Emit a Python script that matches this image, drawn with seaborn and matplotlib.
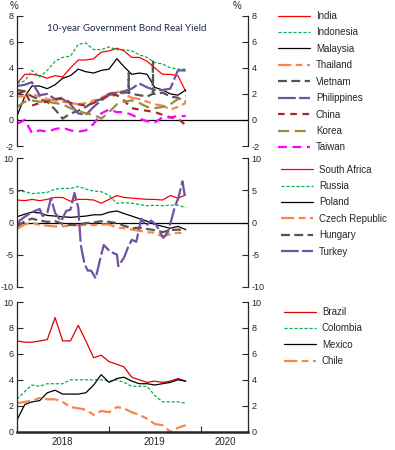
import pandas as pd
import matplotlib
matplotlib.use("Agg")
import matplotlib.pyplot as plt
import matplotlib.dates as mdates
import seaborn as sns

months = pd.date_range("2018-01-01", periods=23, freq="MS")

# --- Asia (%)
india = [2.8, 3.5, 3.5, 3.4, 3.2, 3.4, 3.3, 4.0, 4.6, 4.6, 4.7, 5.2, 5.3, 5.5, 5.3, 4.8, 4.8, 4.5, 4.0, 3.5, 3.5, 3.4, 2.2]
indonesia = [2.8, 3.0, 3.8, 3.3, 3.8, 4.5, 4.8, 4.9, 5.8, 5.9, 5.4, 5.4, 5.6, 5.4, 5.4, 5.3, 5.0, 4.8, 4.4, 4.3, 4.0, 3.9, 3.9]
malaysia = [0.3, 1.8, 2.6, 2.6, 2.4, 2.7, 3.2, 3.4, 3.9, 3.7, 3.6, 3.8, 3.9, 4.7, 4.1, 3.5, 3.6, 3.5, 2.5, 2.3, 2.0, 1.9, 2.3]
thailand = [1.8, 1.8, 2.0, 1.8, 1.6, 1.5, 1.4, 1.3, 1.2, 1.3, 1.5, 1.7, 2.0, 2.2, 2.0, 1.7, 1.6, 1.4, 1.2, 1.1, 0.8, 1.0, 1.3]
vietnam = [2.3, 2.2, 1.8, 1.6, 1.4, 0.8, 0.1, 0.5, 0.7, 1.0, 1.4, 1.6, 2.0, 2.1, 2.1, 2.0, 1.9, 1.8, 2.0, 2.1, 1.8, 1.7, 1.4]
vietnam_spike_dates = ["2019-03-19", "2019-03-20", "2019-03-21", "2019-06-23", "2019-06-24", "2019-06-25"]
vietnam_spike_vals = [2.1, 3.6, 2.1, 2.0, 4.6, 2.0]
philippines = [2.6, 2.7, 2.9, 1.9, 2.0, 1.6, 1.6, 1.2, 0.5, 0.4, 1.0, 1.5, 1.9, 2.1, 2.2, 2.4, 2.8, 2.5, 2.3, 2.3, 2.4, 3.8, 3.8]
china = [2.0, 2.2, 1.1, 1.3, 1.4, 1.6, 1.7, 1.3, 1.2, 1.1, 1.3, 1.6, 1.9, 1.9, 1.5, 0.9, 0.8, 0.7, 0.6, 0.4, 0.2, 0.1, -0.4]
korea = [1.0, 1.4, 1.5, 1.4, 1.4, 1.3, 1.2, 0.9, 0.7, 0.5, 0.4, 0.1, 0.6, 1.2, 1.4, 1.5, 1.3, 1.0, 0.9, 1.0, 1.2, 1.6, 1.8]
taiwan = [-0.3, 0.0, -1.0, -0.8, -0.9, -0.7, -0.6, -0.8, -0.9, -0.8, -0.3, 0.5, 0.8, 0.6, 0.6, 0.4, 0.1, -0.1, -0.2, 0.2, 0.2, 0.3, 0.3]

# --- Emerging Europe, Middle East & Africa (%)
south_africa = [3.5, 3.4, 3.6, 3.4, 3.6, 3.9, 3.9, 3.3, 3.6, 3.6, 3.5, 3.0, 3.6, 4.2, 3.9, 3.8, 3.7, 3.6, 3.6, 3.5, 4.2, 3.8, 4.3]
russia = [4.9, 4.8, 4.5, 4.6, 4.7, 5.2, 5.3, 5.3, 5.6, 5.2, 4.9, 4.8, 4.2, 3.0, 3.1, 3.0, 2.8, 2.6, 2.7, 2.6, 2.7, 2.7, 2.3]
poland = [0.9, 1.3, 1.6, 1.5, 1.1, 1.0, 0.9, 0.8, 0.9, 1.0, 1.2, 1.2, 1.6, 1.8, 1.4, 1.0, 0.6, 0.2, -0.3, -0.6, -0.9, -0.6, -1.1]
czech = [-1.0, -0.3, 0.0, -0.4, -0.5, -0.6, -0.6, -0.5, -0.4, -0.4, -0.4, -0.3, -0.3, -0.8, -0.9, -1.1, -1.3, -1.5, -1.6, -2.2, -1.8, -1.6, -1.7]
hungary = [-0.6, 0.2, 0.6, 0.3, 0.1, 0.2, -0.2, -0.4, -0.3, -0.1, 0.0, 0.2, 0.1, -0.1, -0.5, -0.9, -0.8, -1.0, -1.2, -1.5, -1.2, -1.1, -1.2]
turkey_dates = ["2018-01-01", "2018-01-12", "2018-02-01", "2018-03-01", "2018-04-01", "2018-04-13",
                "2018-05-01", "2018-05-16", "2018-06-01", "2018-06-25", "2018-07-15", "2018-08-01",
                "2018-08-17", "2018-09-01", "2018-09-11", "2018-09-26", "2018-10-09", "2018-10-22",
                "2018-11-09", "2018-11-25", "2018-12-11", "2019-01-04", "2019-02-01", "2019-02-07",
                "2019-03-01", "2019-03-16", "2019-04-01", "2019-04-19", "2019-05-09", "2019-05-28",
                "2019-06-17", "2019-07-07", "2019-08-04", "2019-08-22", "2019-09-06", "2019-09-19",
                "2019-10-02", "2019-10-19", "2019-10-28", "2019-11-04"]
turkey = [-0.5, 0.3, 0.9, 1.6, 2.1, 1.0, 1.5, 3.8, 1.5, 0.2, 1.8, 2.0,
          4.6, 2.3, -3.5, -6.5, -7.5, -7.5, -8.7, -6.0, -3.5, -4.5, -5.0, -6.8,
          -5.5, -4.0, -2.7, -3.0, 0.6, -0.5, 0.3, -0.4, -2.4, -1.5, 0.5, 2.5,
          3.7, 6.4, 4.3, 3.9]

# --- Latin America (%)
brazil = [7.0, 6.9, 6.9, 7.0, 7.1, 8.8, 7.0, 7.0, 8.2, 7.0, 5.7, 5.9, 5.4, 5.2, 5.0, 4.2, 4.0, 3.8, 3.9, 3.8, 3.9, 4.1, 3.9]
colombia = [2.5, 3.1, 3.6, 3.5, 3.7, 3.7, 3.7, 4.0, 4.0, 4.0, 4.0, 4.0, 3.9, 4.0, 3.8, 3.5, 3.5, 3.5, 2.8, 2.3, 2.3, 2.3, 2.2]
mexico = [0.9, 2.1, 2.3, 2.4, 3.0, 3.2, 2.9, 2.9, 2.9, 3.0, 3.6, 4.4, 3.8, 4.1, 4.2, 3.9, 3.7, 3.7, 3.6, 3.7, 3.8, 4.0, 3.9]
chile = [2.2, 2.3, 2.4, 2.6, 2.5, 2.5, 2.3, 1.9, 1.8, 1.7, 1.3, 1.6, 1.5, 1.9, 1.8, 1.5, 1.3, 1.0, 0.6, 0.5, 0.0, 0.3, 0.5]

# line styles by slot (same look reused in each panel)
RED = dict(color="#ff0000", lw=0.9, ls="-")
GREEN = dict(color="#00b050", lw=0.9, ls=(0, (2.5, 1.5)))
BLACK = dict(color="#000000", lw=0.9, ls="-")
ORANGE = dict(color="#f7864c", lw=1.6, ls=(0, (6, 2, 3, 2)))
GREY = dict(color="#555555", lw=1.6, ls=(0, (4, 2)))
PURPLE = dict(color="#7052a0", lw=1.6, ls=(0, (8, 1.5)))
DARKRED = dict(color="#a02c2c", lw=1.6, ls=(0, (3, 2.5)))
OLIVE = dict(color="#9b8c3c", lw=1.6, ls=(0, (5, 2.5)))
MAGENTA = dict(color="#ff00ff", lw=1.6, ls=(0, (4, 2.5)))


def series_df(dates, vals):
    return pd.DataFrame({"date": pd.to_datetime(dates), "value": vals})


vietnam_df = pd.concat([series_df(months, vietnam),
                        series_df(vietnam_spike_dates, vietnam_spike_vals)]).sort_values("date")

panels = [
    {
        "ylim": (-2, 8), "ticks": [-2, 0, 2, 4, 6, 8],
        "lines": [("India", series_df(months, india), RED),
                  ("Indonesia", series_df(months, indonesia), GREEN),
                  ("Malaysia", series_df(months, malaysia), BLACK),
                  ("Thailand", series_df(months, thailand), ORANGE),
                  ("Vietnam", vietnam_df, GREY),
                  ("Philippines", series_df(months, philippines), PURPLE),
                  ("China", series_df(months, china), DARKRED),
                  ("Korea", series_df(months, korea), OLIVE),
                  ("Taiwan", series_df(months, taiwan), MAGENTA)],
    },
    {
        "ylim": (-10, 10), "ticks": [-10, -5, 0, 5, 10],
        "lines": [("South Africa", series_df(months, south_africa), RED),
                  ("Russia", series_df(months, russia), GREEN),
                  ("Poland", series_df(months, poland), BLACK),
                  ("Czech Republic", series_df(months, czech), ORANGE),
                  ("Hungary", series_df(months, hungary), GREY),
                  ("Turkey", series_df(turkey_dates, turkey), PURPLE)],
    },
    {
        "ylim": (0, 10), "ticks": [0, 2, 4, 6, 8, 10],
        "lines": [("Brazil", series_df(months, brazil), dict(RED, color="#e00000")),
                  ("Colombia", series_df(months, colombia), GREEN),
                  ("Mexico", series_df(months, mexico), BLACK),
                  ("Chile", series_df(months, chile), ORANGE)],
    },
]

sns.set_style("ticks")
plt.rcParams["font.family"] = ["Liberation Sans", "DejaVu Sans"]
plt.rcParams["axes.unicode_minus"] = False
plt.rcParams["font.size"] = 7

W, H = 395, 450
fig = plt.figure(figsize=(W / 100, H / 100), dpi=100)

left, right = 17, 248
rows = [(15.7, 146), (158.3, 286.7), (302, 431.7)]
legend_pos = [(278, 11), (281, 164.5), (284, 307)]
xmin, xmax = pd.Timestamp("2018-01-01"), pd.Timestamp("2020-07-05")

for i, (panel, (top, bot)) in enumerate(zip(panels, rows)):
    ax = fig.add_axes([left / W, 1 - bot / H, (right - left) / W, (bot - top) / H])
    for name, df, st in panel["lines"]:
        sns.lineplot(data=df, x="date", y="value", ax=ax, label=name,
                     color=st["color"], linewidth=st["lw"], linestyle=st["ls"])
    ax.set_ylim(*panel["ylim"])
    ax.set_xlim(xmin, xmax)
    ax.set_yticks(panel["ticks"])
    ax.set_xlabel("")
    ax.set_ylabel("")
    ax.tick_params(axis="y", which="both", left=True, right=True, labelleft=True, labelright=True,
                   direction="in", length=4, width=0.8, pad=2.5, labelsize=6.5)
    for side in ["left", "right"]:
        ax.spines[side].set_visible(True)
        ax.spines[side].set_linewidth(0.9)
    ax.spines["top"].set_visible(False)
    if i < 2:
        ax.spines["bottom"].set_visible(False)
        ax.axhline(0, color="black", lw=0.9, zorder=1)
        ax.tick_params(axis="x", which="both", bottom=False, labelbottom=False)
    else:
        ax.spines["bottom"].set_linewidth(1.8)
        ax.xaxis.set_major_locator(mdates.YearLocator())
        ax.xaxis.set_major_formatter(plt.NullFormatter())
        ax.set_xticks([pd.Timestamp("2018-07-01"), pd.Timestamp("2019-07-01"), pd.Timestamp("2020-04-08")],
                      minor=True)
        ax.set_xticklabels(["2018", "2019", "2020"], minor=True)
        ax.tick_params(axis="x", which="major", direction="in", length=4, width=0.8)
        ax.tick_params(axis="x", which="minor", length=0, pad=4, labelsize=7)
    lx, ly = legend_pos[i]
    ax.legend(loc="upper left", bbox_to_anchor=(lx / W, 1 - ly / H), bbox_transform=fig.transFigure,
              frameon=False, fontsize=7, handlelength=3.3, handletextpad=0.6, borderpad=0,
              borderaxespad=0, labelspacing=0.66)
    if i == 0:
        ax.text(0.474, 0.905, "10-year Government Bond Real Yield", transform=ax.transAxes,
                ha="center", va="center", fontsize=7, family="Lato", color="#1f2a44")

fig.text(14 / W, 1 - 6 / H, "%", ha="center", va="center", fontsize=7)
fig.text(237 / W, 1 - 6 / H, "%", ha="center", va="center", fontsize=7)

fig.savefig("out.png", dpi=100)
